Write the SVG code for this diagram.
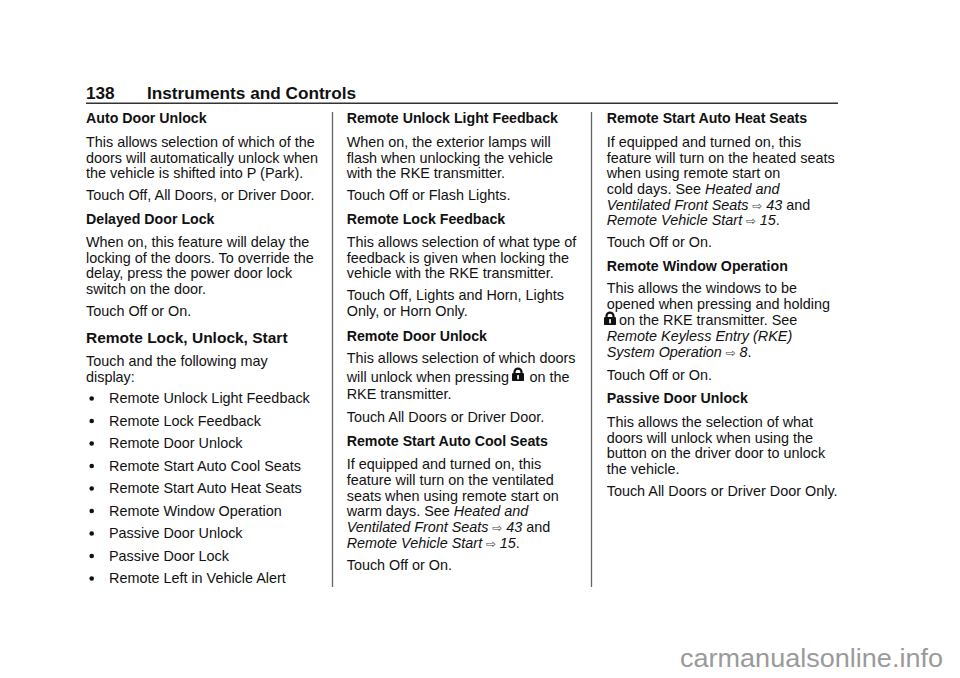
<svg xmlns="http://www.w3.org/2000/svg" width="960" height="678" viewBox="0 0 960 678">
<style>
text{font-family:"Liberation Sans",Arial,Helvetica,sans-serif;fill:#111;}
.t{font-size:14.4px;}
.h{font-size:14.2px;font-weight:bold;}
.h2{font-size:15.5px;font-weight:bold;}
.hd{font-size:17.2px;font-weight:bold;}
.i{font-style:italic;}
.ar{font-family:"DejaVu Sans",sans-serif;font-size:12px;fill:#444;font-style:normal;}
.wm{font-size:25px;fill:#9a9a9a;}
.rule{stroke:#333;stroke-width:1.4;}
.div{stroke:#666;stroke-width:1.3;}
.lk{fill:#111;}
</style>
<defs>
<g id="lock">
<path d="M3 6.5 V4.6 A3.5 3.5 0 0 1 10 4.6 V6.5" fill="none" stroke="#111" stroke-width="2.2"/>
<rect x="0.5" y="5.6" width="12" height="8" rx="1.2" class="lk"/>
<rect x="5.7" y="7.6" width="1.7" height="4.2" fill="#fff"/>
</g>
</defs>
<rect width="960" height="678" fill="#fff"/>
<g id="header">
<text class="hd" x="86" y="98.5">138</text>
<text class="hd" x="147" y="98.5">Instruments and Controls</text>
<line class="rule" x1="86" y1="103.3" x2="838" y2="103.3"/>
</g>
<g id="dividers">
<line class="div" x1="332.5" y1="112" x2="332.5" y2="587"/>
<line class="div" x1="591.5" y1="112" x2="591.5" y2="587"/>
</g>
<g id="col1">
<g id="auto-door-unlock">
<text class="h" x="86" y="123.3">Auto Door Unlock</text>
<text class="t" x="86" y="146.7">This allows selection of which of the</text>
<text class="t" x="86" y="162.5">doors will automatically unlock when</text>
<text class="t" x="86" y="178.2">the vehicle is shifted into P (Park).</text>
<text class="t" x="86" y="199.5">Touch Off, All Doors, or Driver Door.</text>
</g>
<g id="delayed-door-lock">
<text class="h" x="86" y="224">Delayed Door Lock</text>
<text class="t" x="86" y="246.7">When on, this feature will delay the</text>
<text class="t" x="86" y="262.5">locking of the doors. To override the</text>
<text class="t" x="86" y="278.3">delay, press the power door lock</text>
<text class="t" x="86" y="294">switch on the door.</text>
<text class="t" x="86" y="316">Touch Off or On.</text>
</g>
<g id="remote-lock-unlock-start">
<text class="h2" x="86" y="342.7">Remote Lock, Unlock, Start</text>
<text class="t" x="86" y="366">Touch and the following may</text>
<text class="t" x="86" y="381.7">display:</text>
<g class="lk">
<circle cx="91.7" cy="398.5" r="2.3"/>
<circle cx="91.7" cy="421" r="2.3"/>
<circle cx="91.7" cy="443.5" r="2.3"/>
<circle cx="91.7" cy="466" r="2.3"/>
<circle cx="91.7" cy="488.5" r="2.3"/>
<circle cx="91.7" cy="511" r="2.3"/>
<circle cx="91.7" cy="533.5" r="2.3"/>
<circle cx="91.7" cy="556" r="2.3"/>
<circle cx="91.7" cy="578.5" r="2.3"/>
</g>
<text class="t" x="109" y="403">Remote Unlock Light Feedback</text>
<text class="t" x="109" y="425.5">Remote Lock Feedback</text>
<text class="t" x="109" y="448">Remote Door Unlock</text>
<text class="t" x="109" y="470.5">Remote Start Auto Cool Seats</text>
<text class="t" x="109" y="493">Remote Start Auto Heat Seats</text>
<text class="t" x="109" y="515.5">Remote Window Operation</text>
<text class="t" x="109" y="538">Passive Door Unlock</text>
<text class="t" x="109" y="560.5">Passive Door Lock</text>
<text class="t" x="109" y="583">Remote Left in Vehicle Alert</text>
</g>
</g>
<g id="col2">
<g id="remote-unlock-light-feedback">
<text class="h" x="346.7" y="123.3">Remote Unlock Light Feedback</text>
<text class="t" x="346.7" y="146.7">When on, the exterior lamps will</text>
<text class="t" x="346.7" y="162.5">flash when unlocking the vehicle</text>
<text class="t" x="346.7" y="178.2">with the RKE transmitter.</text>
<text class="t" x="346.7" y="199.5">Touch Off or Flash Lights.</text>
</g>
<g id="remote-lock-feedback">
<text class="h" x="346.7" y="224">Remote Lock Feedback</text>
<text class="t" x="346.7" y="246.7">This allows selection of what type of</text>
<text class="t" x="346.7" y="262.5">feedback is given when locking the</text>
<text class="t" x="346.7" y="278.3">vehicle with the RKE transmitter.</text>
<text class="t" x="346.7" y="300">Touch Off, Lights and Horn, Lights</text>
<text class="t" x="346.7" y="315.8">Only, or Horn Only.</text>
</g>
<g id="remote-door-unlock">
<text class="h" x="346.7" y="340.7">Remote Door Unlock</text>
<text class="t" x="346.7" y="363.3">This allows selection of which doors</text>
<text class="t" x="346.7" y="381.7">will unlock when pressing</text>
<use href="#lock" x="511.5" y="367.5"/>
<text class="t" x="529.5" y="381.7">on the</text>
<text class="t" x="346.7" y="399.3">RKE transmitter.</text>
<text class="t" x="346.7" y="421.7">Touch All Doors or Driver Door.</text>
</g>
<g id="remote-start-auto-cool-seats">
<text class="h" x="346.7" y="446">Remote Start Auto Cool Seats</text>
<text class="t" x="346.7" y="469.3">If equipped and turned on, this</text>
<text class="t" x="346.7" y="485">feature will turn on the ventilated</text>
<text class="t" x="346.7" y="500.7">seats when using remote start on</text>
<text class="t" x="346.7" y="516.3">warm days. See <tspan class="i">Heated and</tspan></text>
<text class="t" x="346.7" y="532"><tspan class="i">Ventilated Front Seats</tspan><tspan class="ar"> ⇨ </tspan><tspan class="i">43</tspan> and</text>
<text class="t" x="346.7" y="547.7"><tspan class="i">Remote Vehicle Start</tspan><tspan class="ar"> ⇨ </tspan><tspan class="i">15</tspan>.</text>
<text class="t" x="346.7" y="570">Touch Off or On.</text>
</g>
</g>
<g id="col3">
<g id="remote-start-auto-heat-seats">
<text class="h" x="606.7" y="123.3">Remote Start Auto Heat Seats</text>
<text class="t" x="606.7" y="146.7">If equipped and turned on, this</text>
<text class="t" x="606.7" y="162.5">feature will turn on the heated seats</text>
<text class="t" x="606.7" y="178.2">when using remote start on</text>
<text class="t" x="606.7" y="194">cold days. See <tspan class="i">Heated and</tspan></text>
<text class="t" x="606.7" y="209.7"><tspan class="i">Ventilated Front Seats</tspan><tspan class="ar"> ⇨ </tspan><tspan class="i">43</tspan> and</text>
<text class="t" x="606.7" y="225.3"><tspan class="i">Remote Vehicle Start</tspan><tspan class="ar"> ⇨ </tspan><tspan class="i">15</tspan>.</text>
<text class="t" x="606.7" y="247">Touch Off or On.</text>
</g>
<g id="remote-window-operation">
<text class="h" x="606.7" y="270.7">Remote Window Operation</text>
<text class="t" x="606.7" y="293.3">This allows the windows to be</text>
<text class="t" x="606.7" y="309">opened when pressing and holding</text>
<use href="#lock" x="603.5" y="311.5"/>
<text class="t" x="619" y="325">on the RKE transmitter. See</text>
<text class="t" x="606.7" y="340.7"><tspan class="i">Remote Keyless Entry (RKE)</tspan></text>
<text class="t" x="606.7" y="356.5"><tspan class="i">System Operation</tspan><tspan class="ar"> ⇨ </tspan><tspan class="i">8</tspan>.</text>
<text class="t" x="606.7" y="379.5">Touch Off or On.</text>
</g>
<g id="passive-door-unlock">
<text class="h" x="606.7" y="403.3">Passive Door Unlock</text>
<text class="t" x="606.7" y="426.7">This allows the selection of what</text>
<text class="t" x="606.7" y="442.5">doors will unlock when using the</text>
<text class="t" x="606.7" y="458.3">button on the driver door to unlock</text>
<text class="t" x="606.7" y="474">the vehicle.</text>
<text class="t" x="606.7" y="496">Touch All Doors or Driver Door Only.</text>
</g>
</g>
<g id="watermark">
<text class="wm" x="680" y="667" textLength="263" lengthAdjust="spacingAndGlyphs">carmanualsonline.info</text>
</g>
</svg>
